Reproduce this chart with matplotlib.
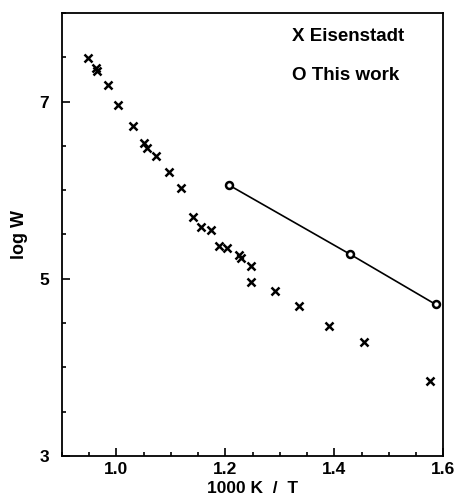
import matplotlib
matplotlib.use("Agg")
import matplotlib.pyplot as plt
from matplotlib.ticker import MultipleLocator, FixedLocator

plt.rcParams['font.family'] = ['Liberation Sans', 'DejaVu Sans']
plt.rcParams['font.weight'] = 'bold'
plt.rcParams['axes.labelweight'] = 'bold'

# Eisenstadt data
eis_x = [0.949, 0.962, 0.965, 0.984, 1.004, 1.031, 1.051, 1.057, 1.073, 1.097,
         1.119, 1.141, 1.156, 1.173, 1.189, 1.204, 1.226, 1.228, 1.247, 1.247,
         1.292, 1.335, 1.390, 1.454, 1.575]
eis_y = [7.49, 7.38, 7.35, 7.19, 6.96, 6.73, 6.53, 6.48, 6.39, 6.21,
         6.03, 5.70, 5.59, 5.55, 5.37, 5.35, 5.27, 5.23, 5.15, 4.96,
         4.86, 4.69, 4.47, 4.29, 3.85]

# this work
tw_x = [1.206, 1.428, 1.586]
tw_y = [6.06, 5.28, 4.71]

fig = plt.figure(figsize=(4.55, 5.03), dpi=100)
ax = fig.add_axes([0.1356, 0.0934, 0.839, 0.8808])

ax.plot(eis_x, eis_y, linestyle='none', marker='x', color='black',
        markersize=5.5, markeredgewidth=1.8)
ax.plot(tw_x, tw_y, color='black', linewidth=1.2, marker='o',
        markersize=5, markerfacecolor='white', markeredgewidth=1.8)

ax.set_xlim(0.9, 1.6)
ax.set_ylim(3, 8)

ax.xaxis.set_major_locator(FixedLocator([1.0, 1.2, 1.4, 1.6]))
ax.xaxis.set_minor_locator(MultipleLocator(0.05))
ax.yaxis.set_major_locator(FixedLocator([3, 5, 7]))
ax.yaxis.set_minor_locator(MultipleLocator(0.5))
ax.tick_params(which='both', direction='in', top=False, right=False,
               labelsize=12.5, width=1.2)
ax.tick_params(which='major', length=6)
ax.tick_params(axis='x', which='major', pad=4)
ax.tick_params(axis='y', which='major', pad=9)
ax.tick_params(which='minor', length=3)
ax.set_xticklabels(['1.0', '1.2', '1.4', '1.6'])
ax.set_yticklabels(['3', '5', '7'])

for s in ax.spines.values():
    s.set_linewidth(1.3)

ax.set_xlabel('1000 K  /  T', fontsize=12.5, labelpad=3)
ax.set_ylabel('log W', fontsize=13, labelpad=8)

ax.text(0.604, 0.946, 'X Eisenstadt', transform=ax.transAxes,
        fontsize=13.5, va='center', ha='left')
ax.text(0.604, 0.86, 'O This work', transform=ax.transAxes,
        fontsize=13.5, va='center', ha='left')

fig.savefig('out.png', dpi=100)
